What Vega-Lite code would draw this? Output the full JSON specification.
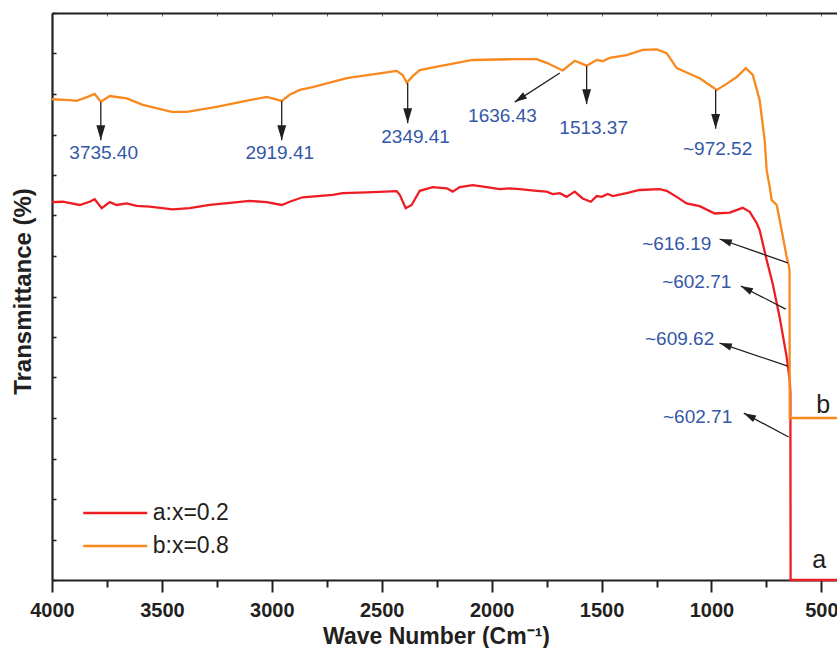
{
  "$schema": "https://vega.github.io/schema/vega-lite/v6.json",
  "width": 785,
  "height": 567,
  "autosize": "none",
  "padding": {"left": 52, "top": 13, "right": 0, "bottom": 68},
  "background": "white",
  "config": {"view": {"stroke": null}, "font": "Liberation Sans"},
  "datasets": {
    "spectra": [
      {"sample": "a:x=0.2", "wn": 4000, "t": 93.3}, {"sample": "a:x=0.2", "wn": 3951, "t": 93.4}, {"sample": "a:x=0.2", "wn": 3874, "t": 92.6}, {"sample": "a:x=0.2", "wn": 3829, "t": 93.4}, {"sample": "a:x=0.2", "wn": 3806, "t": 94.0}, {"sample": "a:x=0.2", "wn": 3774, "t": 91.8}, {"sample": "a:x=0.2", "wn": 3737, "t": 93.3}, {"sample": "a:x=0.2", "wn": 3706, "t": 92.6}, {"sample": "a:x=0.2", "wn": 3660, "t": 93.0}, {"sample": "a:x=0.2", "wn": 3615, "t": 92.4}, {"sample": "a:x=0.2", "wn": 3556, "t": 92.2}, {"sample": "a:x=0.2", "wn": 3451, "t": 91.5}, {"sample": "a:x=0.2", "wn": 3374, "t": 91.8}, {"sample": "a:x=0.2", "wn": 3283, "t": 92.6}, {"sample": "a:x=0.2", "wn": 3178, "t": 93.2}, {"sample": "a:x=0.2", "wn": 3101, "t": 93.6}, {"sample": "a:x=0.2", "wn": 3023, "t": 93.3}, {"sample": "a:x=0.2", "wn": 2955, "t": 92.6}, {"sample": "a:x=0.2", "wn": 2919, "t": 93.4}, {"sample": "a:x=0.2", "wn": 2860, "t": 94.5}, {"sample": "a:x=0.2", "wn": 2723, "t": 95.1}, {"sample": "a:x=0.2", "wn": 2678, "t": 95.5}, {"sample": "a:x=0.2", "wn": 2568, "t": 95.7}, {"sample": "a:x=0.2", "wn": 2432, "t": 96.0}, {"sample": "a:x=0.2", "wn": 2418, "t": 95.1}, {"sample": "a:x=0.2", "wn": 2391, "t": 91.8}, {"sample": "a:x=0.2", "wn": 2364, "t": 92.6}, {"sample": "a:x=0.2", "wn": 2327, "t": 96.1}, {"sample": "a:x=0.2", "wn": 2268, "t": 97.0}, {"sample": "a:x=0.2", "wn": 2204, "t": 96.7}, {"sample": "a:x=0.2", "wn": 2177, "t": 95.9}, {"sample": "a:x=0.2", "wn": 2145, "t": 97.0}, {"sample": "a:x=0.2", "wn": 2086, "t": 97.5}, {"sample": "a:x=0.2", "wn": 2023, "t": 97.0}, {"sample": "a:x=0.2", "wn": 1963, "t": 96.5}, {"sample": "a:x=0.2", "wn": 1918, "t": 96.7}, {"sample": "a:x=0.2", "wn": 1872, "t": 96.5}, {"sample": "a:x=0.2", "wn": 1795, "t": 96.1}, {"sample": "a:x=0.2", "wn": 1750, "t": 95.9}, {"sample": "a:x=0.2", "wn": 1722, "t": 95.3}, {"sample": "a:x=0.2", "wn": 1690, "t": 95.5}, {"sample": "a:x=0.2", "wn": 1659, "t": 94.6}, {"sample": "a:x=0.2", "wn": 1622, "t": 95.9}, {"sample": "a:x=0.2", "wn": 1586, "t": 94.2}, {"sample": "a:x=0.2", "wn": 1549, "t": 93.4}, {"sample": "a:x=0.2", "wn": 1522, "t": 94.8}, {"sample": "a:x=0.2", "wn": 1499, "t": 94.6}, {"sample": "a:x=0.2", "wn": 1472, "t": 95.3}, {"sample": "a:x=0.2", "wn": 1449, "t": 94.8}, {"sample": "a:x=0.2", "wn": 1386, "t": 95.5}, {"sample": "a:x=0.2", "wn": 1327, "t": 96.3}, {"sample": "a:x=0.2", "wn": 1236, "t": 96.5}, {"sample": "a:x=0.2", "wn": 1204, "t": 96.1}, {"sample": "a:x=0.2", "wn": 1158, "t": 94.6}, {"sample": "a:x=0.2", "wn": 1113, "t": 93.0}, {"sample": "a:x=0.2", "wn": 1054, "t": 92.3}, {"sample": "a:x=0.2", "wn": 985, "t": 90.5}, {"sample": "a:x=0.2", "wn": 917, "t": 90.7}, {"sample": "a:x=0.2", "wn": 858, "t": 91.9}, {"sample": "a:x=0.2", "wn": 826, "t": 90.9}, {"sample": "a:x=0.2", "wn": 794, "t": 88.1}, {"sample": "a:x=0.2", "wn": 781, "t": 86.4}, {"sample": "a:x=0.2", "wn": 749, "t": 79.0}, {"sample": "a:x=0.2", "wn": 722, "t": 73.3}, {"sample": "a:x=0.2", "wn": 690, "t": 64.9}, {"sample": "a:x=0.2", "wn": 658, "t": 55.1}, {"sample": "a:x=0.2", "wn": 644, "t": 49.4}, {"sample": "a:x=0.2", "wn": 641, "t": 46.0}, {"sample": "a:x=0.2", "wn": 640, "t": 0}, {"sample": "a:x=0.2", "wn": 429, "t": 0},
      {"sample": "b:x=0.8", "wn": 4000, "t": 118.7}, {"sample": "b:x=0.8", "wn": 3919, "t": 118.5}, {"sample": "b:x=0.8", "wn": 3888, "t": 118.3}, {"sample": "b:x=0.8", "wn": 3838, "t": 119.3}, {"sample": "b:x=0.8", "wn": 3806, "t": 120.0}, {"sample": "b:x=0.8", "wn": 3778, "t": 118.1}, {"sample": "b:x=0.8", "wn": 3737, "t": 119.5}, {"sample": "b:x=0.8", "wn": 3660, "t": 118.9}, {"sample": "b:x=0.8", "wn": 3587, "t": 117.3}, {"sample": "b:x=0.8", "wn": 3455, "t": 115.6}, {"sample": "b:x=0.8", "wn": 3387, "t": 115.6}, {"sample": "b:x=0.8", "wn": 3251, "t": 116.8}, {"sample": "b:x=0.8", "wn": 3146, "t": 118.0}, {"sample": "b:x=0.8", "wn": 3023, "t": 119.3}, {"sample": "b:x=0.8", "wn": 2955, "t": 118.3}, {"sample": "b:x=0.8", "wn": 2919, "t": 119.8}, {"sample": "b:x=0.8", "wn": 2873, "t": 121.0}, {"sample": "b:x=0.8", "wn": 2814, "t": 121.7}, {"sample": "b:x=0.8", "wn": 2659, "t": 123.9}, {"sample": "b:x=0.8", "wn": 2432, "t": 125.7}, {"sample": "b:x=0.8", "wn": 2405, "t": 124.7}, {"sample": "b:x=0.8", "wn": 2386, "t": 122.8}, {"sample": "b:x=0.8", "wn": 2359, "t": 124.4}, {"sample": "b:x=0.8", "wn": 2327, "t": 125.9}, {"sample": "b:x=0.8", "wn": 2236, "t": 126.9}, {"sample": "b:x=0.8", "wn": 2086, "t": 128.4}, {"sample": "b:x=0.8", "wn": 1904, "t": 128.6}, {"sample": "b:x=0.8", "wn": 1795, "t": 128.6}, {"sample": "b:x=0.8", "wn": 1750, "t": 127.7}, {"sample": "b:x=0.8", "wn": 1677, "t": 125.8}, {"sample": "b:x=0.8", "wn": 1622, "t": 128.2}, {"sample": "b:x=0.8", "wn": 1568, "t": 127.0}, {"sample": "b:x=0.8", "wn": 1522, "t": 128.4}, {"sample": "b:x=0.8", "wn": 1495, "t": 128.1}, {"sample": "b:x=0.8", "wn": 1463, "t": 128.9}, {"sample": "b:x=0.8", "wn": 1386, "t": 129.6}, {"sample": "b:x=0.8", "wn": 1313, "t": 130.9}, {"sample": "b:x=0.8", "wn": 1249, "t": 131.0}, {"sample": "b:x=0.8", "wn": 1204, "t": 130.1}, {"sample": "b:x=0.8", "wn": 1158, "t": 126.4}, {"sample": "b:x=0.8", "wn": 1113, "t": 125.3}, {"sample": "b:x=0.8", "wn": 1054, "t": 123.9}, {"sample": "b:x=0.8", "wn": 976, "t": 121.0}, {"sample": "b:x=0.8", "wn": 931, "t": 122.5}, {"sample": "b:x=0.8", "wn": 885, "t": 124.2}, {"sample": "b:x=0.8", "wn": 844, "t": 126.4}, {"sample": "b:x=0.8", "wn": 812, "t": 124.7}, {"sample": "b:x=0.8", "wn": 781, "t": 118.5}, {"sample": "b:x=0.8", "wn": 758, "t": 108.6}, {"sample": "b:x=0.8", "wn": 749, "t": 101.2}, {"sample": "b:x=0.8", "wn": 735, "t": 97.0}, {"sample": "b:x=0.8", "wn": 726, "t": 93.8}, {"sample": "b:x=0.8", "wn": 703, "t": 92.6}, {"sample": "b:x=0.8", "wn": 681, "t": 86.4}, {"sample": "b:x=0.8", "wn": 658, "t": 79.8}, {"sample": "b:x=0.8", "wn": 649, "t": 77.8}, {"sample": "b:x=0.8", "wn": 645, "t": 76.5}, {"sample": "b:x=0.8", "wn": 644, "t": 40.0}, {"sample": "b:x=0.8", "wn": 429, "t": 40.0}
    ],
    "arrows": [
      {"x": 3778, "y": 118.0, "x2": 3778, "y2": 108.6, "dir": "down"},
      {"x": 2955, "y": 118.3, "x2": 2955, "y2": 108.6, "dir": "down"},
      {"x": 2382, "y": 122.7, "x2": 2382, "y2": 112.8, "dir": "down"},
      {"x": 1690, "y": 125.2, "x2": 1895, "y2": 118.0, "dir": "dl"},
      {"x": 1568, "y": 126.9, "x2": 1568, "y2": 117.5, "dir": "down"},
      {"x": 981, "y": 121.0, "x2": 981, "y2": 111.4, "dir": "down"},
      {"x": 653, "y": 78.3, "x2": 963, "y2": 84.2, "dir": "ul1"},
      {"x": 662, "y": 66.9, "x2": 867, "y2": 72.6, "dir": "ul2"},
      {"x": 653, "y": 52.8, "x2": 963, "y2": 58.5, "dir": "ul1"},
      {"x": 649, "y": 35.3, "x2": 853, "y2": 41.2, "dir": "ul2"}
    ],
    "peaks": [
      {"wn": 3765, "t": 104.0, "label": "3735.40"},
      {"wn": 2964, "t": 104.0, "label": "2919.41"},
      {"wn": 2346, "t": 107.9, "label": "2349.41"},
      {"wn": 1951, "t": 113.2, "label": "1636.43"},
      {"wn": 1536, "t": 110.1, "label": "1513.37"},
      {"wn": 972, "t": 104.9, "label": "~972.52"},
      {"wn": 1158, "t": 81.5, "label": "~616.19"},
      {"wn": 1067, "t": 72.1, "label": "~602.71"},
      {"wn": 1145, "t": 58.0, "label": "~609.62"},
      {"wn": 1063, "t": 38.8, "label": "~602.71"}
    ],
    "curveLabels": [
      {"wn": 492, "t": 41.2, "label": "b"},
      {"wn": 510, "t": 3.0, "label": "a"}
    ]
  },
  "layer": [
    {
      "data": {"name": "spectra"},
      "mark": {"type": "line", "strokeWidth": 2.3},
      "encoding": {
        "x": {
          "field": "wn", "type": "quantitative",
          "scale": {"domain": [429, 4000], "reverse": true, "nice": false, "zero": false},
          "axis": {
            "orient": "bottom",
            "title": "Wave Number (Cm⁻¹)",
            "values": [4000, 3750, 3500, 3250, 3000, 2750, 2500, 2250, 2000, 1750, 1500, 1250, 1000, 750, 500],
            "format": "d",
            "labelExpr": "datum.value % 500 === 0 ? datum.label : ''",
            "tickSize": {"condition": {"test": "datum.value % 500 === 0", "value": 12}, "value": 7},
            "tickWidth": 2, "tickColor": "#231f20",
            "domainColor": "#231f20", "domainWidth": 2.2,
            "labelFont": "Liberation Sans", "labelFontSize": 20, "labelFontWeight": "bold", "labelColor": "#231f20",
            "labelBaseline": "alphabetic", "labelPadding": 24, "labelFlush": false, "labelOverlap": false,
            "titleFont": "Liberation Sans", "titleFontSize": 23, "titleFontWeight": "bold", "titleColor": "#231f20",
            "titleX": 384, "titleY": 63, "titleBaseline": "alphabetic", "titleAlign": "center",
            "grid": false
          }
        },
        "y": {
          "field": "t", "type": "quantitative",
          "scale": {"domain": [0, 140], "nice": false, "zero": false},
          "axis": {
            "orient": "left",
            "title": "Transmittance (%)",
            "values": [0, 10, 20, 30, 40, 50, 60, 70, 80, 90, 100, 110, 120, 130, 140],
            "tickSize": -4, "tickWidth": 1.5, "tickColor": "#231f20",
            "labels": false,
            "domainColor": "#231f20", "domainWidth": 2.2,
            "titleFont": "Liberation Sans", "titleFontSize": 24, "titleFontWeight": "bold", "titleColor": "#231f20",
            "titleX": -22, "titleY": 278, "titleAngle": 270, "titleBaseline": "alphabetic", "titleAlign": "center",
            "grid": false
          }
        },
        "color": {
          "field": "sample", "type": "nominal",
          "scale": {"domain": ["a:x=0.2", "b:x=0.8"], "range": ["#ee1d23", "#f7891f"]},
          "legend": {
            "orient": "none", "legendX": 29.75, "legendY": 483.5, "title": null,
            "symbolType": "stroke", "symbolSize": 4096, "symbolStrokeWidth": 2.5,
            "clipHeight": 33, "rowPadding": 0, "padding": 0,
            "labelFont": "Liberation Sans", "labelFontSize": 23, "labelColor": "#231f20",
            "labelOffset": 4, "labelLimit": 300
          }
        }
      }
    },
    {
      "data": {"name": "arrows"},
      "mark": {"type": "rule", "color": "#231f20", "strokeWidth": 1.3},
      "encoding": {
        "x": {
          "field": "x", "type": "quantitative",
          "axis": {
            "orient": "top", "title": null, "labels": false,
            "values": [4000, 3750, 3500, 3250, 3000, 2750, 2500, 2250, 2000, 1750, 1500, 1250, 1000, 750, 500],
            "tickSize": -3, "tickWidth": 1, "tickColor": "#666666",
            "domainColor": "#231f20", "domainWidth": 2.2, "grid": false
          }
        },
        "y": {"field": "y", "type": "quantitative"},
        "x2": {"field": "x2"},
        "y2": {"field": "y2"}
      }
    },
    {
      "data": {"name": "arrows"},
      "mark": {"type": "point", "shape": "M0,0L-0.6,2L0.6,2Z", "filled": true, "color": "#231f20", "opacity": 1, "strokeWidth": 0},
      "encoding": {
        "x": {"field": "x2", "type": "quantitative", "axis": null},
        "y": {"field": "y2", "type": "quantitative"},
        "angle": {
          "condition": [
            {"test": "datum.dir === 'dl'", "value": 237},
            {"test": "datum.dir === 'ul1'", "value": 289},
            {"test": "datum.dir === 'ul2'", "value": 297}
          ],
          "value": 180
        },
        "size": {"condition": {"test": "datum.dir !== 'down'", "value": 150}, "value": 220}
      }
    },
    {
      "data": {"name": "peaks"},
      "mark": {"type": "text", "color": "#3557a7", "font": "Liberation Sans", "fontSize": 19, "baseline": "alphabetic", "align": "center"},
      "encoding": {
        "x": {"field": "wn", "type": "quantitative", "axis": null},
        "y": {"field": "t", "type": "quantitative"},
        "text": {"field": "label"}
      }
    },
    {
      "data": {"name": "curveLabels"},
      "mark": {"type": "text", "color": "#231f20", "font": "Liberation Sans", "fontSize": 25, "baseline": "alphabetic", "align": "center"},
      "encoding": {
        "x": {"field": "wn", "type": "quantitative", "axis": null},
        "y": {"field": "t", "type": "quantitative"},
        "text": {"field": "label"}
      }
    }
  ],
  "resolve": {"axis": {"x": "independent"}}
}
